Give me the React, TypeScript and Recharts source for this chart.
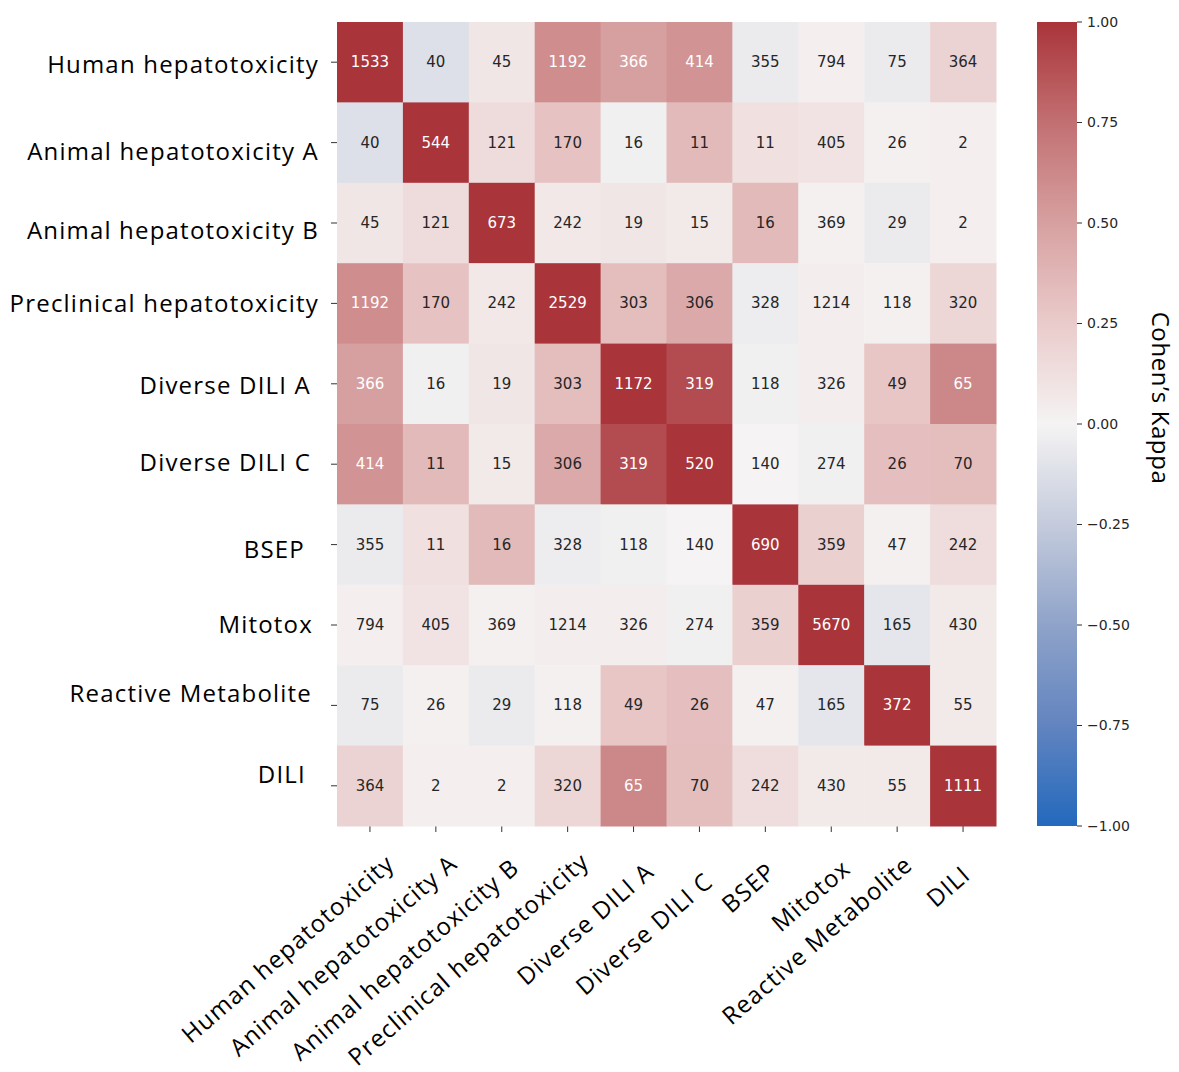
import React from "react";
import { Bar, BarChart, Scatter, ScatterChart, XAxis, YAxis } from "recharts";

const categories = [
  "Human hepatotoxicity",
  "Animal hepatotoxicity A",
  "Animal hepatotoxicity B",
  "Preclinical hepatotoxicity",
  "Diverse DILI A",
  "Diverse DILI C",
  "BSEP",
  "Mitotox",
  "Reactive Metabolite",
  "DILI",
];

// overlap counts shown in each cell
const overlapCounts = [
  [1533, 40, 45, 1192, 366, 414, 355, 794, 75, 364],
  [40, 544, 121, 170, 16, 11, 11, 405, 26, 2],
  [45, 121, 673, 242, 19, 15, 16, 369, 29, 2],
  [1192, 170, 242, 2529, 303, 306, 328, 1214, 118, 320],
  [366, 16, 19, 303, 1172, 319, 118, 326, 49, 65],
  [414, 11, 15, 306, 319, 520, 140, 274, 26, 70],
  [355, 11, 16, 328, 118, 140, 690, 359, 47, 242],
  [794, 405, 369, 1214, 326, 274, 359, 5670, 165, 430],
  [75, 26, 29, 118, 49, 26, 47, 165, 372, 55],
  [364, 2, 2, 320, 65, 70, 242, 430, 55, 1111],
];

// Cohen's kappa (cell colour)
const kappa = [
  [1, -0.12, 0.08, 0.6, 0.5, 0.57, -0.05, 0.03, -0.05, 0.2],
  [-0.12, 1, 0.15, 0.3, -0.02, 0.35, 0.12, 0.1, 0.02, 0.03],
  [0.08, 0.15, 1, 0.07, 0.08, 0.06, 0.35, 0.02, -0.05, 0.03],
  [0.6, 0.3, 0.07, 1, 0.33, 0.45, -0.04, 0.04, 0.02, 0.18],
  [0.5, -0.02, 0.08, 0.33, 1, 0.9, -0.02, 0.04, 0.28, 0.63],
  [0.57, 0.35, 0.06, 0.45, 0.9, 1, 0.0, -0.02, 0.32, 0.33],
  [-0.05, 0.12, 0.35, -0.04, -0.02, 0.0, 1, 0.22, 0.02, 0.14],
  [0.03, 0.1, 0.02, 0.04, 0.04, -0.02, 0.22, 1, -0.08, 0.06],
  [-0.05, 0.02, -0.05, 0.02, 0.28, 0.32, 0.02, -0.08, 1, 0.06],
  [0.2, 0.03, 0.03, 0.18, 0.63, 0.33, 0.14, 0.06, 0.06, 1],
];

const colorbarTicks = [-1, -0.75, -0.5, -0.25, 0, 0.25, 0.5, 0.75, 1];

// hand nudges for the pasted-in axis labels [dx, dy]
const rowLabelNudge = [
  [0, 1], [0, 8], [0, 6], [0, -1], [-8, 1], [-8, -3], [-14, 4], [-6, -2], [-7, -13], [-13, -12],
];
const colLabelNudge = [
  [0, 0], [-3, 0], [-7, 4], [-3, -2], [-4, 8], [-11, 18], [-14, 8], [-5, 5], [-9, 1], [-17, 11],
];

const cells = overlapCounts.flatMap((row, r) =>
  row.map((count, c) => ({ row: r, col: c, count, kappa: kappa[r][c] }))
);

// vlag-like diverging scale
const stops: Array<[number, number[]]> = [
  [-1, [35, 105, 189]],
  [-0.75, [98, 132, 192]],
  [-0.5, [143, 163, 201]],
  [-0.25, [196, 203, 220]],
  [0, [245, 243, 243]],
  [0.25, [234, 203, 203]],
  [0.5, [215, 160, 160]],
  [0.75, [194, 112, 114]],
  [1, [169, 52, 58]],
];

function kappaColor(v: number) {
  for (let i = 1; i < stops.length; i++) {
    const [v1, c1] = stops[i];
    const [v0, c0] = stops[i - 1];
    if (v <= v1) {
      const t = (v - v0) / (v1 - v0);
      const c = c0.map((a, k) => Math.round(a + (c1[k] - a) * t));
      return `rgb(${c[0]},${c[1]},${c[2]})`;
    }
  }
  return "rgb(169,52,58)";
}

const LABEL_FONT = "'Open Sans', sans-serif";
const PLOT_W = 659;
const PLOT_H = 804;
const CELL_W = PLOT_W / 10;
const CELL_H = PLOT_H / 10;

function HeatCell(props: any) {
  const { cx, cy, payload } = props;
  if (cx == null || cy == null) return null;
  return (
    <g>
      <rect x={cx - CELL_W / 2} y={cy - CELL_H / 2} width={CELL_W + 0.5} height={CELL_H + 0.5} fill={kappaColor(payload.kappa)} />
      <text
        x={cx}
        y={cy}
        textAnchor="middle"
        dominantBaseline="central"
        fontFamily="'DejaVu Sans', sans-serif"
        fontSize={15}
        fill={payload.kappa >= 0.48 ? "#ffffff" : "#262626"}
      >
        {payload.count}
      </text>
    </g>
  );
}

function RowTick(props: any) {
  const { x, y, payload } = props;
  const i = payload.value;
  const [dx, dy] = rowLabelNudge[i];
  return (
    <text x={x + dx} y={y + dy} textAnchor="end" dominantBaseline="central" fontFamily={LABEL_FONT} fontSize={24} letterSpacing={1.2} fill="#000">
      {categories[i]}
    </text>
  );
}

function ColTick(props: any) {
  const { x, y, payload } = props;
  const i = payload.value;
  const [dx, dy] = colLabelNudge[i];
  return (
    <text
      transform={`translate(${x + 26 + dx},${y + 32 + dy}) rotate(-41)`}
      textAnchor="end"
      fontFamily={LABEL_FONT}
      fontSize={24}
      letterSpacing={1.2}
      fill="#000"
    >
      {categories[i]}
    </text>
  );
}

const fmtKappa = (v: number) => (v < 0 ? "\u2212" + Math.abs(v).toFixed(2) : v.toFixed(2));

function KappaLabel(props: any) {
  const { viewBox } = props;
  const x = viewBox.x + viewBox.width + 24;
  const y = viewBox.y + viewBox.height / 2 - 26;
  return (
    <text transform={`translate(${x},${y}) rotate(90)`} textAnchor="middle" dominantBaseline="central" fontFamily={LABEL_FONT} fontSize={24} letterSpacing={0.6} fill="#000">
      Cohen’s Kappa
    </text>
  );
}

export default function App() {
  const idx = categories.map((_, i) => i);
  return (
    <div style={{ position: "absolute", left: 0, top: 0, width: 1179, height: 1072, background: "#fff" }}>
      <div style={{ position: "absolute", left: 0, top: 0 }}>
        <ScatterChart width={1010} height={1072} margin={{ top: 22, right: 14, bottom: 0, left: 0 }}>
          <XAxis
            type="number"
            dataKey="col"
            domain={[-0.5, 9.5]}
            ticks={idx}
            interval={0}
            height={246}
            axisLine={false}
            tickLine={{ stroke: "#333" }}
            tickSize={6}
            tick={<ColTick />}
          />
          <YAxis
            type="number"
            dataKey="row"
            domain={[-0.5, 9.5]}
            reversed
            ticks={idx}
            interval={0}
            width={337}
            axisLine={false}
            tickLine={{ stroke: "#333" }}
            tickSize={6}
            tickMargin={12}
            tick={<RowTick />}
          />
          <Scatter data={cells} shape={<HeatCell />} isAnimationActive={false} />
        </ScatterChart>
      </div>
      <div style={{ position: "absolute", left: 1037, top: 0 }}>
        <BarChart
          width={142}
          height={1072}
          data={[{ name: "kappa", range: [-1, 1] }]}
          margin={{ top: 22, right: 42, bottom: 246, left: 0 }}
          barCategoryGap={0}
        >
          <defs>
            <linearGradient id="kappaGradient" x1="0" y1="0" x2="0" y2="1">
              {stops
                .slice()
                .reverse()
                .map(([v, c]) => (
                  <stop key={v} offset={`${((1 - v) / 2) * 100}%`} stopColor={`rgb(${c[0]},${c[1]},${c[2]})`} />
                ))}
            </linearGradient>
          </defs>
          <XAxis dataKey="name" hide />
          <YAxis
            type="number"
            orientation="right"
            domain={[-1, 1]}
            ticks={colorbarTicks}
            interval={0}
            width={60}
            axisLine={false}
            tickLine={{ stroke: "#333" }}
            tickSize={5}
            tickMargin={5}
            tickFormatter={fmtKappa}
            tick={{ fontFamily: "'DejaVu Sans', sans-serif", fontSize: 14, fill: "#262626" }}
            label={<KappaLabel />}
          />
          <Bar dataKey="range" fill="url(#kappaGradient)" isAnimationActive={false} />
        </BarChart>
      </div>
    </div>
  );
}
